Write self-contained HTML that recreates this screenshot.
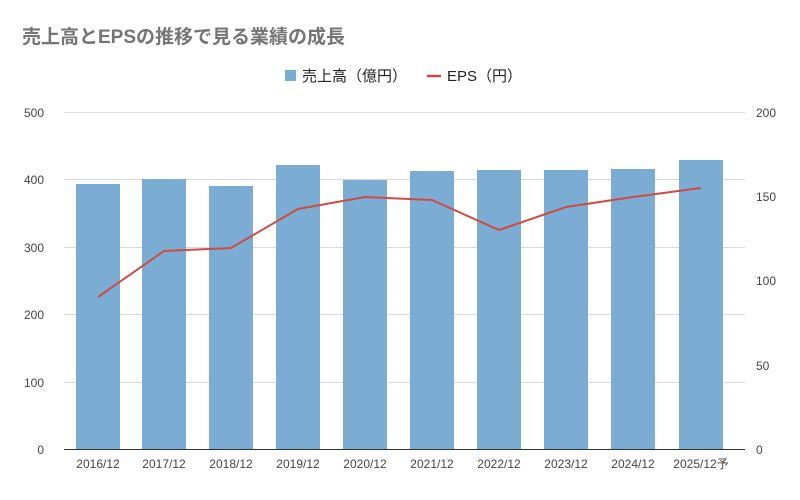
<!DOCTYPE html>
<html><head><meta charset="utf-8"><style>
body{margin:0;background:#fff;}
svg text{font-family:"Liberation Sans","Noto Sans CJK JP",sans-serif;}
</style></head><body>
<svg width="800" height="495" viewBox="0 0 800 495" xmlns="http://www.w3.org/2000/svg">
<rect width="800" height="495" fill="#fff"/>
<text x="22" y="43" font-size="19" font-weight="bold" fill="#757575">売上高とEPSの推移で見る業績の成長</text>
<rect x="285" y="70" width="11" height="11" fill="#7bacd3"/>
<text x="302" y="81" font-size="15" fill="#222">売上高（億円）</text>
<line x1="427" y1="76" x2="441" y2="76" stroke="#cc4c45" stroke-width="2.5"/>
<text x="447" y="81" font-size="15" fill="#222">EPS（円）</text>
<g stroke="#d9d9d9" stroke-width="1">
<line x1="64" y1="112.5" x2="745" y2="112.5"/>
<line x1="64" y1="179.5" x2="745" y2="179.5"/>
<line x1="64" y1="247.5" x2="745" y2="247.5"/>
<line x1="64" y1="314.5" x2="745" y2="314.5"/>
<line x1="64" y1="382.5" x2="745" y2="382.5"/>
</g>
<g font-size="12" fill="#444" text-anchor="end">
<text x="44" y="117">500</text><text x="44" y="184">400</text><text x="44" y="252">300</text>
<text x="44" y="319">200</text><text x="44" y="387">100</text><text x="44" y="454">0</text>
</g>
<g font-size="12" fill="#444" text-anchor="start">
<text x="756" y="117">200</text><text x="756" y="201">150</text><text x="756" y="285">100</text>
<text x="756" y="370">50</text><text x="756" y="454">0</text>
</g>
<g fill="#7bacd3">
<rect x="76" y="184" width="44" height="265"/>
<rect x="142" y="179" width="44" height="270"/>
<rect x="209" y="186" width="44" height="263"/>
<rect x="276" y="165" width="44" height="284"/>
<rect x="343" y="180" width="44" height="269"/>
<rect x="410" y="171" width="44" height="278"/>
<rect x="477" y="170" width="44" height="279"/>
<rect x="544" y="170" width="44" height="279"/>
<rect x="611" y="169" width="44" height="280"/>
<rect x="679" y="160" width="44" height="289"/>
</g>
<line x1="64" y1="449.5" x2="745" y2="449.5" stroke="#333" stroke-width="1"/>
<polyline fill="none" stroke="#cc4c45" stroke-width="2" points="98,297 164,251 231,248 298,209 365,197 432,200 499,230 566,207 633,197 701,188"/>
<g font-size="12" fill="#444" text-anchor="middle">
<text x="98" y="468">2016/12</text><text x="164" y="468">2017/12</text><text x="231" y="468">2018/12</text>
<text x="298" y="468">2019/12</text><text x="365" y="468">2020/12</text><text x="432" y="468">2021/12</text>
<text x="499" y="468">2022/12</text><text x="566" y="468">2023/12</text><text x="633" y="468">2024/12</text>
<text x="701" y="468">2025/12予</text>
</g>
</svg>
</body></html>
